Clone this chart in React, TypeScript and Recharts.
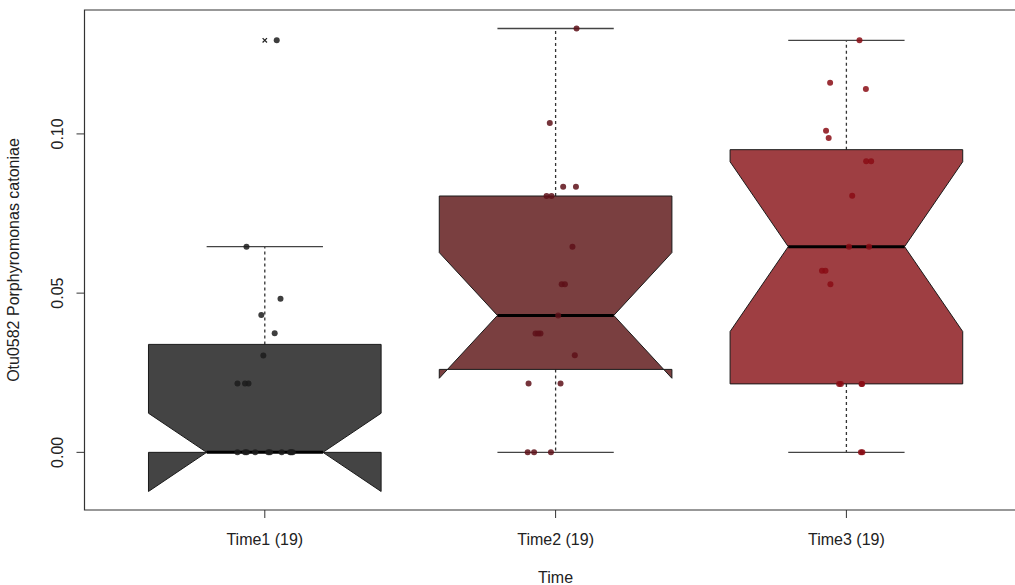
import React from 'react';
import { ScatterChart, Scatter, XAxis, YAxis, ReferenceArea, Label } from 'recharts';

// group labels and colours
const groupLabels = ['Time1 (19)', 'Time2 (19)', 'Time3 (19)'];
const boxColors = ['#444444', '#7a3f40', '#9e3e42'];
const dotColors = ['#1c1c1c', '#5e1019', '#8a0c14'];

// observed values per time point (19 samples each)
const time1Values = [0.1294, 0.0646, 0.0482, 0.0431, 0.0374, 0.0304, 0.0216, 0.0216, 0.0216, 0, 0, 0, 0, 0, 0, 0, 0, 0, 0];
const time2Values = [0.1331, 0.1034, 0.0834, 0.0834, 0.0805, 0.0805, 0.0646, 0.0528, 0.0528, 0.043, 0.0373, 0.0373, 0.0373, 0.0305, 0.0216, 0.0216, 0, 0, 0];
const time3Values = [0.1294, 0.1161, 0.1141, 0.101, 0.0987, 0.0914, 0.0914, 0.0806, 0.0646, 0.0646, 0.057, 0.057, 0.0528, 0.0215, 0.0215, 0.0215, 0.0215, 0, 0];

// horizontal jitter of the dots (category units)
const time1Jitter = [0.041, -0.063, 0.054, -0.012, 0.034, -0.005, -0.094, -0.068, -0.056, -0.094, -0.068, -0.062, -0.033, 0.012, 0.018, 0.058, 0.087, 0.096, 0.091];
const time2Jitter = [0.072, -0.02, 0.026, 0.07, -0.031, -0.014, 0.058, 0.021, 0.032, 0.009, -0.069, -0.052, -0.06, 0.066, -0.093, 0.017, -0.096, -0.074, -0.016];
const time3Jitter = [0.045, -0.056, 0.067, -0.07, -0.061, 0.068, 0.085, 0.02, 0.009, 0.078, -0.084, -0.072, -0.055, -0.025, -0.019, 0.052, 0.054, 0.05, 0.055];

const yTicks = [0, 0.05, 0.1];
const yTickLabels = ['0.00', '0.05', '0.10'];

const allValues = [time1Values, time2Values, time3Values];
const allJitter = [time1Jitter, time2Jitter, time3Jitter];

const FONT = '"Liberation Sans", Arial, Helvetica, sans-serif';
const BOX_HALF = 0.4;

// R's fivenum / boxplot.stats
function fivenum(v: number[]) {
  const x = [...v].sort((a, b) => a - b);
  const n = x.length;
  const n4 = Math.floor((n + 3) / 2) / 2;
  const d = [1, n4, (n + 1) / 2, n + 1 - n4, n];
  return d.map((di) => 0.5 * (x[Math.floor(di) - 1] + x[Math.ceil(di) - 1]));
}

function boxStats(v: number[]) {
  const [, q1, med, q3] = fivenum(v);
  const iqr = q3 - q1;
  const inside = v.filter((x) => x >= q1 - 1.5 * iqr && x <= q3 + 1.5 * iqr);
  const out = v.filter((x) => x < q1 - 1.5 * iqr || x > q3 + 1.5 * iqr);
  const half = (1.58 * iqr) / Math.sqrt(v.length);
  return {
    q1, med, q3,
    lo: Math.min(...inside), hi: Math.max(...inside),
    nlo: med - half, nhi: med + half,
    out,
  };
}

const stats = allValues.map(boxStats);

// axis ranges like R: x in [0.5, n+0.5], everything expanded by 4%
const yMin = Math.min(...stats.map((s) => Math.min(s.lo, s.nlo, ...s.out)));
const yMax = Math.max(...stats.map((s) => Math.max(s.hi, s.nhi, ...s.out)));
const yPad = (yMax - yMin) * 0.04;
const yDomain = [yMin - yPad, yMax + yPad];
const xPad = groupLabels.length * 0.04;
const xDomain = [0.5 - xPad, groupLabels.length + 0.5 + xPad];

const boxPolygon = (i: number) => {
  const p = i + 1;
  const s = stats[i];
  const w = BOX_HALF;
  return [
    { x: p - w, y: s.q1 }, { x: p - w, y: s.nlo }, { x: p - w / 2, y: s.med }, { x: p - w, y: s.nhi },
    { x: p - w, y: s.q3 }, { x: p + w, y: s.q3 }, { x: p + w, y: s.nhi }, { x: p + w / 2, y: s.med },
    { x: p + w, y: s.nlo }, { x: p + w, y: s.q1 },
  ];
};
const whiskerPts = (i: number) => {
  const p = i + 1;
  const s = stats[i];
  return [{ x: p, y: s.q3 }, { x: p, y: s.hi }, { x: p, y: s.q1 }, { x: p, y: s.lo }];
};
const capPts = (i: number) => {
  const p = i + 1;
  const s = stats[i];
  const w = BOX_HALF / 2;
  return [{ x: p - w, y: s.hi }, { x: p + w, y: s.hi }, { x: p - w, y: s.lo }, { x: p + w, y: s.lo }];
};
const medianPts = (i: number) => {
  const p = i + 1;
  const s = stats[i];
  return [{ x: p - BOX_HALF / 2, y: s.med }, { x: p + BOX_HALF / 2, y: s.med }];
};
const dotPts = (i: number) => allValues[i].map((v, k) => ({ x: i + 1 + allJitter[i][k], y: v }));
const outlierPts = (i: number) => stats[i].out.map((v) => ({ x: i + 1, y: v }));

const NoShape = () => <g />;

const polygonLine = (fill: string) => (props: any) => {
  const pts = props.points || [];
  const d = pts.map((pt: any, k: number) => `${k ? 'L' : 'M'}${pt.x},${pt.y}`).join('') + 'Z';
  return <path d={d} fill={fill} stroke="#1a1a1a" strokeWidth={1} strokeLinejoin="miter" />;
};

const segmentLine = (stroke: string, width: number, dash?: string) => (props: any) => {
  const pts = props.points || [];
  let d = '';
  for (let k = 0; k + 1 < pts.length; k += 2) {
    d += `M${pts[k].x},${pts[k].y}L${pts[k + 1].x},${pts[k + 1].y}`;
  }
  return <path d={d} fill="none" stroke={stroke} strokeWidth={width} strokeDasharray={dash} />;
};

const Dot = (color: string) => (props: any) => (
  <circle cx={props.cx} cy={props.cy} r={3} fill={color} fillOpacity={0.85} />
);

const Cross = (props: any) => {
  const { cx, cy } = props;
  const r = 2.2;
  return (
    <path d={`M${cx - r},${cy - r}L${cx + r},${cy + r}M${cx - r},${cy + r}L${cx + r},${cy - r}`} stroke="#222" strokeWidth={1.2} />
  );
};

const XTick = (props: any) => {
  const { x, y, payload } = props;
  return (
    <text x={x} y={y + 25} textAnchor="middle" fontSize={16} fill="#222" fontFamily={FONT}>
      {groupLabels[payload.value - 1]}
    </text>
  );
};

const YTick = (props: any) => {
  const { x, y, payload } = props;
  const idx = yTicks.indexOf(payload.value);
  const bx = x - 11.2;
  return (
    <text x={bx} y={y} transform={`rotate(-90, ${bx}, ${y})`} textAnchor="middle" fontSize={16} fill="#222" fontFamily={FONT}>
      {idx >= 0 ? yTickLabels[idx] : ''}
    </text>
  );
};

const XTitle = (props: any) => {
  const vb = props.viewBox;
  return (
    <text x={vb.x + vb.width / 2} y={vb.y + vb.height - 2} textAnchor="middle" fontSize={16} fill="#222" fontFamily={FONT}>
      Time
    </text>
  );
};

const YTitle = (props: any) => {
  const vb = props.viewBox;
  const x = vb.x + 19;
  const y = vb.y + vb.height / 2;
  return (
    <text x={x} y={y} transform={`rotate(-90, ${x}, ${y})`} textAnchor="middle" fontSize={16} fill="#222" fontFamily={FONT}>
      Otu0582 Porphyromonas catoniae
    </text>
  );
};

export default function App() {
  return (
    <div style={{ position: 'absolute', left: 0, top: 0, width: 1015, height: 585, overflow: 'hidden', background: '#fff' }}>
      <ScatterChart width={1040} height={585} margin={{ top: 10, right: 13.3, bottom: 0, left: 0 }}>
        <XAxis
          type="number"
          dataKey="x"
          domain={xDomain}
          allowDataOverflow
          ticks={[1, 2, 3]}
          height={75}
          axisLine={false}
          tickSize={8}
          stroke="#333"
          tick={<XTick />}
        >
          <Label content={<XTitle />} />
        </XAxis>
        <YAxis
          type="number"
          dataKey="y"
          domain={yDomain}
          allowDataOverflow
          ticks={yTicks}
          width={84.5}
          axisLine={false}
          tickSize={8}
          stroke="#333"
          tick={<YTick />}
        >
          <Label content={<YTitle />} />
        </YAxis>
        <ReferenceArea x1={xDomain[0]} x2={xDomain[1]} y1={yDomain[0]} y2={yDomain[1]} fill="none" stroke="#333" strokeWidth={1.2} ifOverflow="visible" />
        {groupLabels.map((g, i) => (
          <Scatter key={`w${i}`} data={whiskerPts(i)} shape={NoShape} line={segmentLine('#333', 1.3, '3 3')} isAnimationActive={false} />
        ))}
        {groupLabels.map((g, i) => (
          <Scatter key={`c${i}`} data={capPts(i)} shape={NoShape} line={segmentLine('#444', 1.3)} isAnimationActive={false} />
        ))}
        {groupLabels.map((g, i) => (
          <Scatter key={`b${i}`} data={boxPolygon(i)} shape={NoShape} line={polygonLine(boxColors[i])} isAnimationActive={false} />
        ))}
        {groupLabels.map((g, i) => (
          <Scatter key={`m${i}`} data={medianPts(i)} shape={NoShape} line={segmentLine('#000', 3)} isAnimationActive={false} />
        ))}
        {groupLabels.map((g, i) => (
          <Scatter key={`o${i}`} data={outlierPts(i)} shape={Cross} isAnimationActive={false} />
        ))}
        {groupLabels.map((g, i) => (
          <Scatter key={`d${i}`} data={dotPts(i)} shape={Dot(dotColors[i])} isAnimationActive={false} />
        ))}
      </ScatterChart>
    </div>
  );
}
